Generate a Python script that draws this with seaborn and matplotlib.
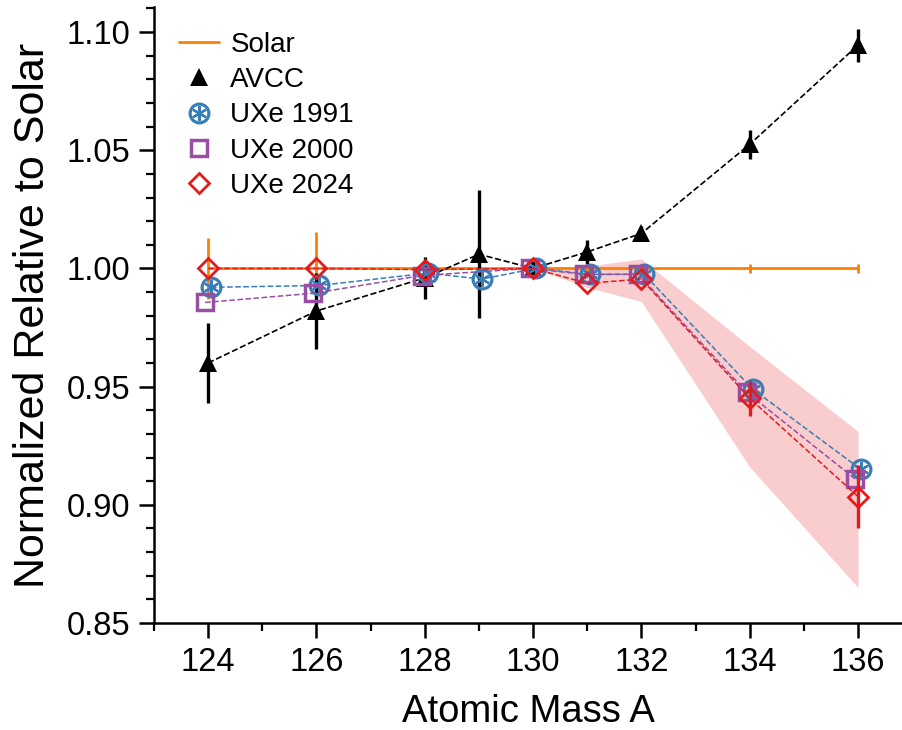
import matplotlib
matplotlib.use("Agg")
import matplotlib.pyplot as plt
import matplotlib.transforms as mtransforms
from matplotlib.lines import Line2D
from matplotlib.legend_handler import HandlerTuple
from matplotlib.ticker import MultipleLocator, FormatStrFormatter
import numpy as np
import pandas as pd
import seaborn as sns

# ---------------- data ----------------
mass = [124, 126, 128, 129, 130, 131, 132, 134, 136]

solar = [1.0, 1.0, 1.0, 1.0, 1.0, 1.0, 1.0, 1.0, 1.0]
solar_err = [0.013, 0.0155, 0.003, 0.003, 0.0, 0.002, 0.002, 0.002, 0.002]

avcc = [0.960, 0.982, 0.996, 1.006, 1.000, 1.007, 1.0148, 1.0525, 1.0945]
avcc_err = [0.017, 0.016, 0.009, 0.027, 0.0, 0.005, 0.003, 0.006, 0.007]

uxe1991_mass = [124, 126, 128, 129, 130, 131, 132, 134, 136]
uxe1991 = [0.992, 0.9928, 0.998, 0.9955, 1.000, 0.9975, 0.9975, 0.949, 0.915]

uxe2000_mass = [124, 126, 128, 130, 131, 132, 134, 136]
uxe2000 = [0.9856, 0.9895, 0.997, 1.000, 0.9975, 0.9975, 0.9476, 0.911]

uxe2024_mass = [124, 126, 128, 130, 131, 132, 134, 136]
uxe2024 = [1.000, 1.000, 0.9995, 1.000, 0.9937, 0.9955, 0.945, 0.9035]
uxe2024_err = [0.0, 0.0, 0.0, 0.0, 0.0, 0.0, 0.0075, 0.0135]

band_mass = [130, 131, 132, 134, 136]
band_low = [1.000, 0.992, 0.986, 0.916, 0.865]
band_high = [1.000, 1.001, 1.004, 0.967, 0.931]

labels = ["Solar", "AVCC", "UXe 1991", "UXe 2000", "UXe 2024"]

# ---------------- style ----------------
sns.set_style("ticks")
plt.rcParams["font.family"] = ["Liberation Sans", "DejaVu Sans"]
plt.rcParams["text.color"] = "black"
plt.rcParams["axes.labelcolor"] = "black"

c_orange = "#ff7f00"
c_blue = "#377eb8"
c_purple = "#984ea3"
c_red = "#e41a1c"

fig = plt.figure(figsize=(9.03, 7.30), dpi=100)
ax = fig.add_axes([0.1705, 0.1466, 0.8295, 0.8438])

def shifted(dx_pts):
    return ax.transData + mtransforms.ScaledTranslation(dx_pts / 72.0, 0, fig.dpi_scale_trans)

# uncertainty band
ax.fill_between(band_mass, band_low, band_high, color=c_red, alpha=0.22,
                linewidth=0, zorder=1)

# Solar
df_solar = pd.DataFrame({"A": mass, "v": solar})
sns.lineplot(data=df_solar, x="A", y="v", ax=ax, color=c_orange, lw=2.0,
             zorder=2, legend=False)
ax.errorbar(mass, solar, yerr=solar_err, fmt="none", ecolor=c_orange,
            elinewidth=2.0, capsize=0, zorder=2)

# AVCC
df_avcc = pd.DataFrame({"A": mass, "v": avcc})
ax.errorbar(mass, avcc, yerr=avcc_err, fmt="none", ecolor="black",
            elinewidth=2.4, capsize=0, zorder=3)
sns.lineplot(data=df_avcc, x="A", y="v", ax=ax, color="black", lw=1.2,
             linestyle="--", marker="^", markersize=13, markeredgewidth=0,
             markerfacecolor="black", zorder=3, legend=False)

# UXe 1991
df_91 = pd.DataFrame({"A": uxe1991_mass, "v": uxe1991})
tr91 = shifted(2.0)
sns.lineplot(data=df_91, x="A", y="v", ax=ax, color=c_blue, lw=1.1,
             linestyle="--", marker="o", markersize=13.5, markerfacecolor="none",
             markeredgecolor=c_blue, markeredgewidth=2.3, zorder=4,
             legend=False, transform=tr91)
ax.plot(uxe1991_mass, uxe1991, linestyle="none", marker=(6, 2, 0), markersize=10.5,
        markeredgecolor=c_blue, markeredgewidth=1.6, zorder=4, transform=tr91)

# UXe 2000
df_00 = pd.DataFrame({"A": uxe2000_mass, "v": uxe2000})
sns.lineplot(data=df_00, x="A", y="v", ax=ax, color=c_purple, lw=1.1,
             linestyle="--", marker="s", markersize=12, markerfacecolor="none",
             markeredgecolor=c_purple, markeredgewidth=2.5, zorder=5,
             legend=False, transform=shifted(-2.2))

# UXe 2024
df_24 = pd.DataFrame({"A": uxe2024_mass, "v": uxe2024})
ax.errorbar(uxe2024_mass, uxe2024, yerr=uxe2024_err, fmt="none", ecolor=c_red,
            elinewidth=2.4, capsize=0, zorder=6)
sns.lineplot(data=df_24, x="A", y="v", ax=ax, color=c_red, lw=1.1,
             linestyle="--", marker="D", markersize=10.5, markerfacecolor="none",
             markeredgecolor=c_red, markeredgewidth=2.0, zorder=6, legend=False)

# ---------------- axes ----------------
ax.set_xlim(123, 136.83)
ax.set_ylim(0.85, 1.1106)
ax.xaxis.set_major_locator(MultipleLocator(2))
ax.xaxis.set_minor_locator(MultipleLocator(1))
ax.yaxis.set_major_locator(MultipleLocator(0.05))
ax.yaxis.set_minor_locator(MultipleLocator(0.01))
ax.yaxis.set_major_formatter(FormatStrFormatter("%.2f"))

for s in ["top", "right"]:
    ax.spines[s].set_visible(False)
for s in ["left", "bottom"]:
    ax.spines[s].set_linewidth(1.8)
    ax.spines[s].set_color("black")

ax.tick_params(which="major", direction="out", length=11, width=1.8,
               labelsize=23.5, colors="black", pad=6)
ax.tick_params(which="minor", direction="out", length=6, width=1.6, colors="black")

ax.set_xlabel("Atomic Mass A", fontsize=27.5, labelpad=12, color="black")
ax.set_ylabel("Normalized Relative to Solar", fontsize=31, labelpad=10, color="black")

# ---------------- legend ----------------
h_solar = Line2D([], [], color=c_orange, lw=2.0)
h_avcc = Line2D([], [], color="black", linestyle="none", marker="^",
                markersize=13, markeredgewidth=0)
h_91a = Line2D([], [], color=c_blue, linestyle="none", marker="o", markersize=13.5,
               markerfacecolor="none", markeredgewidth=2.3)
h_91b = Line2D([], [], color=c_blue, linestyle="none", marker=(6, 2, 0),
               markersize=10.5, markeredgewidth=1.6)
h_00 = Line2D([], [], color=c_purple, linestyle="none", marker="s", markersize=12,
              markerfacecolor="none", markeredgewidth=2.5)
h_24 = Line2D([], [], color=c_red, linestyle="none", marker="D", markersize=10.5,
              markerfacecolor="none", markeredgewidth=2.0)

leg = ax.legend([h_solar, h_avcc, (h_91a, h_91b), h_00, h_24], labels,
                handler_map={tuple: HandlerTuple(ndivide=1, pad=0)},
                loc="upper left", bbox_to_anchor=(0.0, 1.0), frameon=False,
                fontsize=20, handlelength=1.45, handletextpad=0.4, labelspacing=0.33,
                borderaxespad=0.5)
for t in leg.get_texts():
    t.set_color("black")

fig.savefig("out.png", dpi=100)
